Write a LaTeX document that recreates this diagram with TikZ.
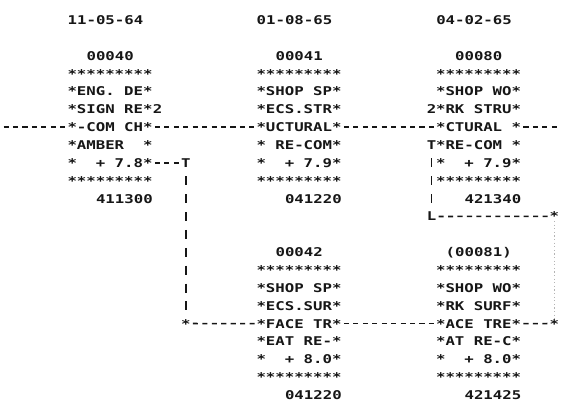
\documentclass[tikz,border=0pt]{standalone}
\usepackage{fontspec}
\newfontfamily\printfont[FakeStretch=1.3]{DejaVu Sans Mono}
\usepackage{xcolor}
\definecolor{inkText}  {HTML}{161616}
\definecolor{inkFaint} {HTML}{B4B4B4}

\begin{document}
\begin{tikzpicture}[
    x=9.45pt, y=-17.86pt,
    every node/.style={font=\printfont\bfseries\fontsize{12.07}{17.86}\selectfont,
                       text=inkText, inner sep=0pt},
    chr/.style={anchor=base west, yshift=-4.4pt},
    pbox/.style={align=left},
    hy/.style={inkText, line width=1.6pt, dash pattern=on 5.1pt off 4.35pt, dash phase=7.3pt},
    bar/.style={inkText, line width=1.5pt, dash pattern=on 9pt off 8.86pt, dash phase=9pt},
    faint/.style={inkFaint, line width=1pt, dash pattern=on 1.2pt off 2.4pt}
]
\useasboundingbox (-7.143,-1.12) rectangle (52.54,21.61);
% Dates, event numbers and codes
\foreach \c/\d in {0/11-05-64, 20/01-08-65, 39/04-02-65} {
    \node[chr] (date\c) at (\c,0) {\d};
}
\foreach \c/\n in {2/00040, 22/00041, 41/00080} {
    \node[chr] (num\c) at (\c,2) {\n};
}
\node[chr] (num22b) at (22,13) {00042};
\node[chr] (num40b) at (40,13) {(00081)};
\foreach \c/\k in {3/411300, 23/041220, 42/421340} {
    \node[chr] (code\c) at (\c,10) {\k};
}
\foreach \c/\k in {23/041220, 42/421425} {
    \node[chr] (codeb\c) at (\c,21) {\k};
}
% Activity boxes
\node[pbox] (n40) at (4.5,6) {{*********}\\{*ENG. DE*}\\{*SIGN RE*}\\{*-COM CH*}\\{*AMBER~~*}\\{*~~+ 7.8*}\\{*********}};
\node[pbox] (n41) at (24.5,6) {{*********}\\{*SHOP SP*}\\{*ECS.STR*}\\{*UCTURAL*}\\{* RE-COM*}\\{*~~+ 7.9*}\\{*********}};
\node[pbox] (n80) at (43.5,6) {{*********}\\{*SHOP WO*}\\{*RK STRU*}\\{*CTURAL~*}\\{*RE-COM~*}\\{*~~+ 7.9*}\\{*********}};
\node[pbox] (n42) at (24.5,17) {{*********}\\{*SHOP SP*}\\{*ECS.SUR*}\\{*FACE TR*}\\{*EAT RE-*}\\{*~~+ 8.0*}\\{*********}};
\node[pbox] (n81) at (43.5,17) {{*********}\\{*SHOP WO*}\\{*RK SURF*}\\{*ACE TRE*}\\{*AT RE-C*}\\{*~~+ 8.0*}\\{*********}};
% Marks beside the boxes
\node[chr] (two40) at (9,5) {2};
\node[chr] (two80) at (38,5) {2};
\node[chr] (tA) at (12,8) {T};
\node[chr] (jA) at (12,17) {*};
\node[chr] (tB) at (38,7) {T};
\node[chr] (lB) at (38,11) {L};
\node[chr] (jB) at (51,11) {*};
\node[chr] (jC) at (51,17) {*};
\coordinate (in6) at (-7,6);
\coordinate (out6) at (52,6);
% Connectors
\draw[hy] (in6) -- (n40.west);
\draw[hy] (n40.east) -- (n41.west);
\draw[hy] (n41.east) -- (n80.west);
\draw[hy] (n80.east) -- (out6);
\draw[hy] (n40.east |- tA) -- (tA.west);
\draw[bar] (tA.south) -- (jA.north);
\draw[hy] (jA.east) -- (n42.west);
\draw[hy] (n42.east) -- (n81.west);
\draw[hy] (n81.east) -- (jC.west);
\draw[bar] (tB.south) -- (lB.north);
\draw[hy] (lB.east) -- (jB.west);
\draw[faint] (jB.south) -- (jC.north);
\end{tikzpicture}
\end{document}
